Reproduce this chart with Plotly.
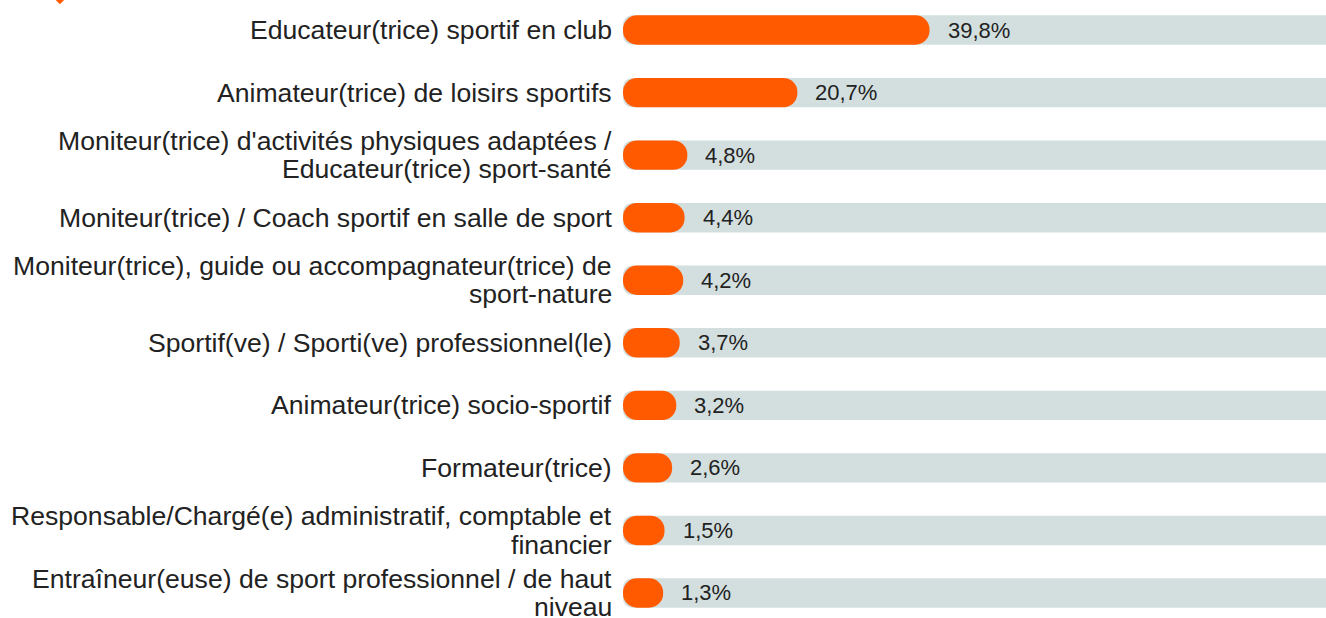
import plotly.graph_objects as go

categories = [
    "Educateur(trice) sportif en club",
    "Animateur(trice) de loisirs sportifs",
    "Moniteur(trice) d'activités physiques adaptées /<br>Educateur(trice) sport-santé",
    "Moniteur(trice) / Coach sportif en salle de sport",
    "Moniteur(trice), guide ou accompagnateur(trice) de<br>sport-nature",
    "Sportif(ve) / Sporti(ve) professionnel(le)",
    "Animateur(trice) socio-sportif",
    "Formateur(trice)",
    "Responsable/Chargé(e) administratif, comptable et<br>financier",
    "Entraîneur(euse) de sport professionnel / de haut<br>niveau",
]
values = [39.8, 20.7, 4.8, 4.4, 4.2, 3.7, 3.2, 2.6, 1.5, 1.3]
value_labels = ["39,8%", "20,7%", "4,8%", "4,4%", "4,2%", "3,7%", "3,2%", "2,6%", "1,5%", "1,3%"]
track_max = 100

PAD = 4.5  # minimum visible length of a rounded bar (in % units)
ORANGE = "#ff5a00"
TRACK = "#d3dfdf"
TEXT = "#222222"
FONT = "Liberation Sans, Arial"

fig = go.Figure()
fig.add_trace(go.Bar(
    y=categories, x=[track_max + PAD] * len(categories), base=[-PAD] * len(categories),
    orientation="h", marker=dict(color=TRACK, cornerradius=9, line=dict(width=0)),
    width=0.47, hoverinfo="skip", showlegend=False,
))
fig.add_trace(go.Bar(
    y=categories, x=[v + PAD for v in values], base=[-PAD] * len(values),
    orientation="h", marker=dict(color=ORANGE, cornerradius="50%", line=dict(width=0)),
    width=0.47, showlegend=False,
))
for c, v, t in zip(categories, values, value_labels):
    fig.add_annotation(x=v, y=c, text=t, showarrow=False, xanchor="left",
                       xshift=17, borderpad=0, font=dict(size=22, color=TEXT, family=FONT))

# category labels (custom line spacing)
LINE = 28.5
for c in categories:
    lines = c.split("<br>")
    n = len(lines)
    for i, ln in enumerate(lines):
        fig.add_annotation(x=0, xref="paper", y=c, yref="y", text=ln, showarrow=False,
                           xanchor="right", xshift=-10, borderpad=0,
                           yshift=((n - 1) / 2 - i) * LINE,
                           font=dict(size=26.6, color=TEXT, family=FONT))

fig.update_layout(
    width=1326, height=618,
    margin=dict(l=623, r=0, t=0, b=0, pad=0),
    paper_bgcolor="white", plot_bgcolor="white",
    barmode="overlay",
    font=dict(family=FONT, size=20, color=TEXT),
    xaxis=dict(range=[-PAD, 97.1], visible=False, fixedrange=True),
    yaxis=dict(range=[9.40, -0.48], showgrid=False, showline=False, zeroline=False,
               ticks="", showticklabels=False, fixedrange=True),
)
# small orange marker at the top-left (partially visible icon)
fig.add_shape(type="path", xref="paper", yref="paper",
              path="M -0.807 1.0 L -0.795 1.0 L -0.801 0.993 Z",
              fillcolor=ORANGE, line=dict(width=0))

fig.write_html("out.html")
